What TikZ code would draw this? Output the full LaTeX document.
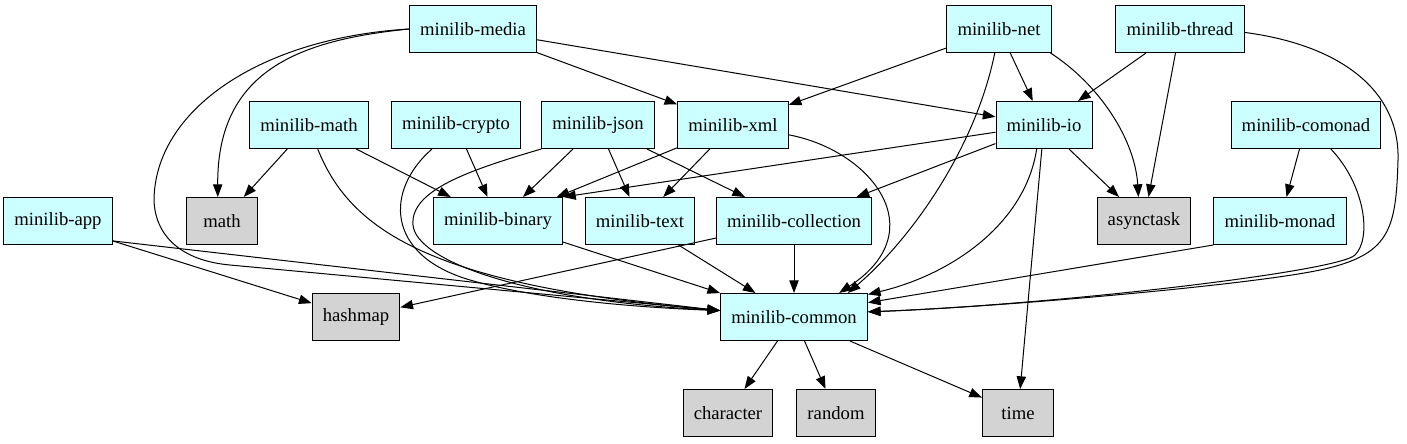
\documentclass[tikz,border=0pt]{standalone}
\usepackage{fontspec}
\setmainfont{Liberation Serif}
\usetikzlibrary{arrows.meta}
\definecolor{libcyan}{RGB}{204,255,255}
\definecolor{extgray}{RGB}{211,211,211}

\begin{document}
\begin{tikzpicture}[
      x=0.75pt,y=-0.75pt,
      lib/.style={draw, line width=0.75pt, fill=libcyan, minimum height=35.25pt, minimum width=53.25pt, inner xsep=8pt, font=\fontsize{14pt}{16pt}\selectfont},
      ext/.style={lib, fill=extgray},
      dep/.style={-{Triangle[length=9.5pt,width=7pt]}, line width=0.75pt}
    ]
      \useasboundingbox (0,0) rectangle (1407,443);
      \node[lib] (media) at (473,29) {minilib-media};
      \node[lib] (net) at (999,29) {minilib-net};
      \node[lib] (thread) at (1180,29) {minilib-thread};
      \node[lib] (libmath) at (309,125) {minilib-math};
      \node[lib] (crypto) at (456,125) {minilib-crypto};
      \node[lib] (json) at (598,125) {minilib-json};
      \node[lib] (xml) at (733,125) {minilib-xml};
      \node[lib] (io) at (1044,125) {minilib-io};
      \node[lib] (comonad) at (1306,125) {minilib-comonad};
      \node[lib] (app) at (58,221) {minilib-app};
      \node[ext] (math) at (222,221) {math};
      \node[lib] (binary) at (498,221) {minilib-binary};
      \node[lib] (text) at (640,221) {minilib-text};
      \node[lib] (collection) at (794,221) {minilib-collection};
      \node[ext] (async) at (1144,221) {asynctask};
      \node[lib] (monad) at (1280,221) {minilib-monad};
      \node[ext] (hashmap) at (356,317) {hashmap};
      \node[lib] (common) at (794,317) {minilib-common};
      \node[ext] (character) at (728,413) {character};
      \node[ext] (random) at (836,413) {random};
      \node[ext] (time) at (1018,413) {time};
      % top row
      \draw[dep] (media.west) .. controls (300,40) and (217,70) .. (math.100);
      \draw[dep] (media.west) .. controls (260,38) and (155,110) .. (154,200) .. controls (155,235) and (180,260.5) .. (230,265) -- (common.175);
      \draw[dep] (media) -- (xml);
      \draw[dep] (media) -- (io);
      \draw[dep] (net) -- (xml);
      \draw[dep] (net) -- (io);
      \draw[dep] (net.-25) .. controls (1100,85) and (1135,140) .. (async.103);
      \draw[dep] (net.-100) .. controls (975,150) and (910,240) .. (common.24);
      \draw[dep] (thread) -- (io);
      \draw[dep] (thread) -- (async);
      \draw[dep] (thread.-3) .. controls (1340,45) and (1400,90) .. (1398,160) .. controls (1396,230) and (1390,255) .. (1320,270) .. controls (1250,285) and (1000,307) .. (common.4);
      % middle row
      \draw[dep] (libmath) -- (math);
      \draw[dep] (libmath) -- (binary);
      \draw[dep] (libmath.-70) .. controls (350,230) and (430,285) .. (common.175);
      \draw[dep] (crypto) -- (binary);
      \draw[dep] (crypto.-135) .. controls (385,190) and (385,255) .. (470,280) .. controls (540,300.6) and (650,308) .. (common.175);
      \draw[dep] (json) -- (binary);
      \draw[dep] (json) -- (text);
      \draw[dep] (json) -- (collection);
      \draw[dep] (json.south west) .. controls (470,170) and (410,190) .. (413,225) .. controls (416,260) and (520,300) .. (common.175);
      \draw[dep] (xml) -- (binary);
      \draw[dep] (xml) -- (text);
      \draw[dep] (xml.-10) .. controls (870,150) and (935,230) .. (common.28);
      \draw[dep] (io) -- (binary.north east);
      \draw[dep] (io) -- (collection);
      \draw[dep] (io) -- (async);
      \draw[dep] (io.-107) .. controls (1025,225) and (950,275) .. (common.17);
      \draw[dep] (io) -- (time);
      \draw[dep] (comonad) -- (monad);
      \draw[dep] (comonad.-44) .. controls (1365,185) and (1372,238) .. (1355,255) .. controls (1338,272) and (1050,305) .. (common.4);
      % lower rows
      \draw[dep] (app.-20) -- (hashmap);
      \draw[dep] (app.-20) -- (common.175);
      \draw[dep] (binary) -- (common);
      \draw[dep] (text) -- (common);
      \draw[dep] (collection) -- (common);
      \draw[dep] (collection) -- (hashmap);
      \draw[dep] (monad.south west) -- (common.11);
      \draw[dep] (common) -- (character);
      \draw[dep] (common) -- (random);
      \draw[dep] (common) -- (time);
    \end{tikzpicture}
\end{document}
